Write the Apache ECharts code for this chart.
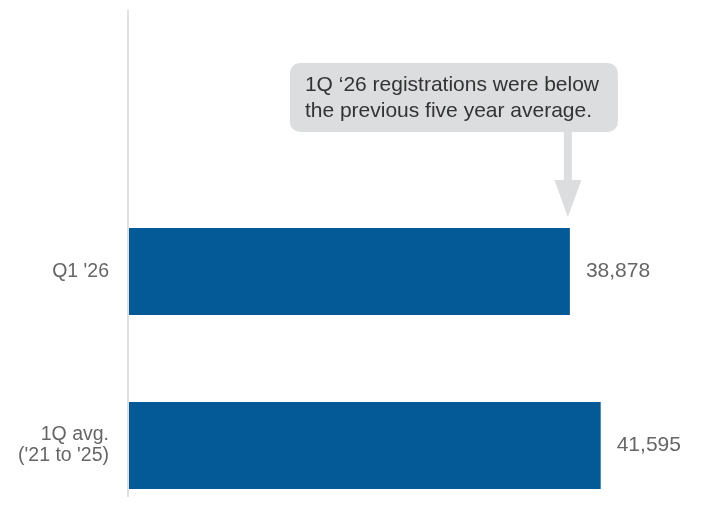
<!DOCTYPE html>
<html>
<head>
<meta charset="utf-8">
<script src="https://cdn.jsdelivr.net/npm/echarts@6/dist/echarts.min.js"></script>
<style>
  html, body { margin: 0; padding: 0; background: #ffffff; }
  #chart { width: 702px; height: 527px; }
</style>
</head>
<body>
<div id="chart"></div>
<script>
// Categories, bottom to top on the category axis
const categories = ['1Q avg.\n(\'21 to \'25)', 'Q1 \'26'];
// Registrations per category
const registrations = [41595, 38878];
// Callout text pointing at the Q1 '26 bar
const calloutLines = ['1Q \u201826 registrations were below', 'the previous five year average.'];

const FONT = '"Liberation Sans", Arial, sans-serif';
const BAR_COLOR = '#035a96';
const CALLOUT_BG = '#dcdddf';

const chart = echarts.init(document.getElementById('chart'), null, { renderer: 'canvas' });

chart.setOption({
  backgroundColor: '#ffffff',
  animation: false,
  grid: {
    left: 129, right: 6, top: 184.5, height: 348,
    containLabel: false,
    outerBoundsMode: 'none'
  },
  xAxis: {
    type: 'value',
    min: 0,
    max: 50000,
    show: false
  },
  yAxis: {
    type: 'category',
    data: categories,
    axisLine: { show: false },
    axisTick: { show: false },
    axisLabel: {
      margin: 20,
      color: '#666666',
      fontFamily: FONT,
      fontSize: 19.5,
      lineHeight: 21,
      align: 'right'
    }
  },
  series: [{
    type: 'bar',
    data: registrations,
    barWidth: '50%',
    itemStyle: { color: BAR_COLOR },
    label: {
      show: true,
      position: 'right',
      distance: 16,
      color: '#666666',
      fontFamily: FONT,
      fontSize: 21,
      formatter: p => p.value.toLocaleString('en-US')
    }
  }]
});

// Vertical baseline and the callout with its arrow, placed from the axis scale
const x0 = chart.convertToPixel({ gridIndex: 0 }, [0, 0])[0];
const tip = chart.convertToPixel({ gridIndex: 0 }, [registrations[1], 1]);
const ax = tip[0] - 2;               // arrow centre
const barTop = tip[1] - 87 / 2;       // top edge of the Q1 '26 bar

chart.setOption({
  graphic: [
    {
      type: 'line',
      shape: { x1: x0 - 1, y1: 10, x2: x0 - 1, y2: 497 },
      style: { stroke: '#e0e0e0', lineWidth: 2 },
      silent: true
    },
    {
      type: 'rect',
      shape: { x: ax - 278, y: 63, width: 328, height: 69, r: 10 },
      style: { fill: CALLOUT_BG },
      silent: true
    },
    {
      type: 'rect',
      shape: { x: ax - 4, y: 132, width: 8, height: 48 },
      style: { fill: CALLOUT_BG },
      silent: true
    },
    {
      type: 'polygon',
      shape: { points: [[ax - 13.5, 180], [ax + 13.5, 180], [ax, barTop - 11]] },
      style: { fill: CALLOUT_BG },
      silent: true
    },
    {
      type: 'text',
      x: ax - 263,
      y: 72,
      style: {
        text: calloutLines.join('\n'),
        fill: '#333333',
        font: '21px ' + FONT,
        lineHeight: 26,
        textVerticalAlign: 'top'
      },
      silent: true
    }
  ]
});
</script>
</body>
</html>
